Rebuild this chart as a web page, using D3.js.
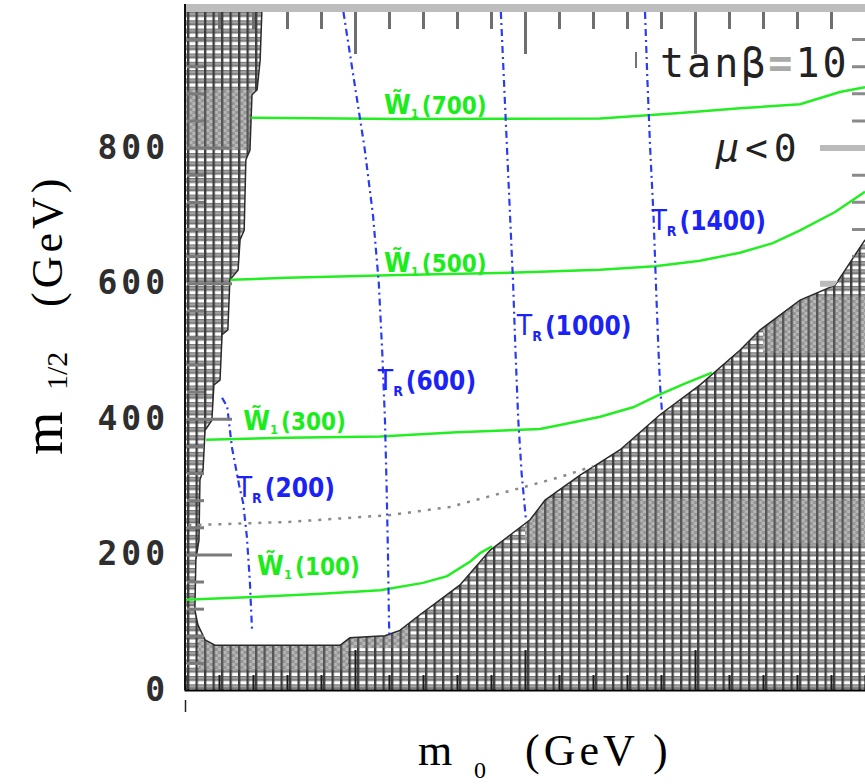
<!DOCTYPE html>
<html>
<head>
<meta charset="utf-8">
<script src="https://cdn.jsdelivr.net/npm/d3@7"></script>
<style>
  body { margin: 0; background: #fff; }
</style>
</head>
<body>
<div id="chart"></div>
<script>
// boundary of the allowed (white) region, [m0, m1/2] in GeV
const leftEdge = [[226,1000],[221,929],[212,885],[197,878],[191,796],[179,782],[174,678],[162,664],[156,619],[132,605],[126,531],[109,524],[103,457],[85,450],[79,398],[59,383],[53,324],[44,310],[41,221],[32,192],[29,118],[38,96],[59,74],[88,66]];
const bottomEdge = [[88,66],[456,66],[485,77],[588,80]];
const stauEdge = [[588,80],[632,88],[691,111],[750,133],[809,155],[897,206],[1015,251],[1059,280],[1162,317],[1279,354],[1397,406],[1515,450],[1632,501],[1691,531],[1809,575],[1912,597],[1941,619],[2000,664]];

// lighter shaded patches inside the excluded area
const shadeTopLeft = [[0,885],[300,885],[300,797],[0,797]];
const shadeBottom = [[40,74],[480,74],[480,30],[40,30]];
const shadeBottomMid = [[460,92],[660,92],[660,62],[460,62]];
const shadeRightBand = [[1000,282],[2000,282],[2000,216],[1000,216]];
const shadeRightTop = [[1700,580],[2000,580],[2000,497],[1700,497]];

// chargino mass contours
const charginoMasses = [100, 300, 500, 700];
const chargino100 = [[0,133],[200,137],[400,142],[574,147],[700,158],[771,168],[840,190],[868,202],[903,212]];
const chargino300 = [[62,369],[300,372],[574,374],[800,380],[1044,385],[1103,391],[1221,403],[1318,417],[1397,436],[1470,452],[1550,468]];
const chargino500 = [[134,605],[300,608],[632,612],[1000,616],[1221,620],[1382,625],[1515,633],[1632,645],[1729,659],[1809,678],[1912,705],[2000,735]];
const chargino700 = [[195,844],[632,842],[1221,843],[1456,851],[1632,858],[1809,864],[1926,882],[2000,889]];
const charginoLines = [chargino100, chargino300, chargino500, chargino700];

// selectron (R) mass contours
const selectronMasses = [200, 600, 1000, 1400];
const selectron200 = [[109,431],[124,418],[138,358],[160,300],[171,276],[182,226],[191,158],[197,90]];
const selectron600 = [[466,1000],[497,900],[528,800],[553,700],[570,600],[580,500],[588,400],[593,300],[597,200],[600,100],[601,82]];
const selectron1000 = [[929,1000],[938,900],[947,800],[956,700],[965,600],[972,500],[980,400],[990,320],[1003,250]];
const selectron1400 = [[1353,1000],[1360,900],[1368,800],[1378,700],[1385,600],[1391,520],[1397,450],[1403,410]];
const selectronLines = [selectron200, selectron600, selectron1000, selectron1400];

// dotted contour
const dottedLine = [[10,243],[309,248],[603,258],[779,270],[965,295],[1103,314],[1200,330]];

// label anchors (GeV)
const charginoLabelAt = [[212,170],[171,384],[585,617],[585,849]];
const selectronLabelAt = [[152,285],[567,443],[976,524],[1372,679]];

const yTickLabels = [0, 200, 400, 600, 800];

const width = 865, height = 784;
const x = d3.scaleLinear().domain([0, 2000]).range([185, 865]);
const y = d3.scaleLinear().domain([0, 1000]).range([690, 12]);

const svg = d3.select("#chart").append("svg")
  .attr("width", width).attr("height", height)
  .attr("viewBox", [0, 0, width, height]);

const defs = svg.append("defs");
const brick = defs.append("pattern").attr("id", "brick")
  .attr("patternUnits", "userSpaceOnUse").attr("width", 8.5).attr("height", 8.3);
brick.append("rect").attr("width", 8.5).attr("height", 8.3).attr("fill", "#767676");
brick.append("rect").attr("x", 0).attr("width", 2.4).attr("height", 8.3).attr("fill", "#3c3c3c");
brick.append("rect").attr("x", 2.4).attr("y", 0.4).attr("width", 6.1).attr("height", 3.3).attr("fill", "#fff");
brick.append("rect").attr("x", 2.4).attr("y", 4.8).attr("width", 6.1).attr("height", 2).attr("fill", "#a6a6a6");

const checker = defs.append("pattern").attr("id", "checker")
  .attr("patternUnits", "userSpaceOnUse").attr("width", 8.5).attr("height", 6);
checker.append("rect").attr("width", 8.5).attr("height", 6).attr("fill", "#b8b8b8");
checker.append("rect").attr("x", 2.4).attr("width", 3).attr("height", 3).attr("fill", "#969696");
checker.append("rect").attr("x", 5.4).attr("y", 3).attr("width", 3.1).attr("height", 3).attr("fill", "#969696");
checker.append("rect").attr("width", 2.4).attr("height", 6).attr("fill", "#555");

const clip = defs.append("clipPath").attr("id", "allowed-clip");

const line = d3.line().x(d => x(d[0])).y(d => y(d[1]));

// excluded area everywhere, then cut out the allowed region
svg.append("rect")
  .attr("x", x(0) + 1).attr("y", y(1000))
  .attr("width", x(2000) - x(0) - 1).attr("height", y(0) - y(1000))
  .attr("fill", "url(#brick)");

svg.append("g")
  .selectAll("path")
  .data([shadeTopLeft, shadeBottom, shadeBottomMid, shadeRightBand, shadeRightTop])
  .join("path")
    .attr("d", d => line(d) + "Z")
    .attr("fill", "url(#checker)");

const allowed = [[2000,1000], ...[...stauEdge].reverse(), ...[...bottomEdge].reverse().slice(1), ...[...leftEdge].reverse().slice(1)];
svg.append("path")
  .attr("d", line(allowed) + "Z")
  .attr("fill", "#fff");
clip.append("path").attr("d", line(allowed) + "Z");

svg.append("path")
  .attr("d", line([...leftEdge, ...bottomEdge.slice(1), ...stauEdge.slice(1)]))
  .attr("fill", "none")
  .attr("stroke", "#2a2a2a")
  .attr("stroke-width", 1.5);

// right ticks, only seen in the allowed area
svg.append("g")
    .attr("clip-path", "url(#allowed-clip)")
  .append("g")
    .attr("transform", `translate(${x(2000)},0)`)
    .call(d3.axisLeft(y).tickValues(d3.range(40, 1000, 40)).tickFormat("").tickSize(13))
    .call(g => g.select(".domain").remove())
    .call(g => g.selectAll(".tick line")
        .attr("stroke", d => d % 200 === 0 ? "#bbb" : "#8a8a8a")
        .attr("stroke-width", d => d % 200 === 0 ? 6 : 3)
        .attr("x2", d => d % 200 === 0 ? -45 : -13));

// dotted contour
svg.append("path")
  .attr("d", line(dottedLine))
  .attr("fill", "none")
  .attr("stroke", "#8a8a8a")
  .attr("stroke-width", 2.5)
  .attr("stroke-dasharray", "3,7");

// chargino contours
svg.append("g")
  .selectAll("path")
  .data(charginoLines)
  .join("path")
    .attr("d", line)
    .attr("fill", "none")
    .attr("stroke", "#22ee22")
    .attr("stroke-width", 2.5);

// selectron contours
svg.append("g")
  .selectAll("path")
  .data(selectronLines)
  .join("path")
    .attr("d", line)
    .attr("fill", "none")
    .attr("stroke", "#2a3cf0")
    .attr("stroke-width", 2.2)
    .attr("stroke-dasharray", "7,4,2,4");

// labels
const labelFont = "DejaVu Sans Condensed, DejaVu Sans";
const gl = svg.append("g")
    .attr("font-family", labelFont)
    .attr("font-weight", "bold")
    .attr("font-size", 24)
    .attr("fill", "#1cec1c")
  .selectAll("text")
  .data(charginoMasses)
  .join("text")
    .attr("x", (d, i) => x(charginoLabelAt[i][0]))
    .attr("y", (d, i) => y(charginoLabelAt[i][1]));
gl.append("tspan").attr("font-size", 27).text("W\u0303");
gl.append("tspan").attr("font-size", 13).attr("dy", 4).text("1");
gl.append("tspan").attr("dy", -4).attr("dx", 3).text(d => `(${d})`);

const bl = svg.append("g")
    .attr("font-family", labelFont)
    .attr("font-weight", "bold")
    .attr("font-size", 26)
    .attr("fill", "#1a22f5")
  .selectAll("text")
  .data(selectronMasses)
  .join("text")
    .attr("x", (d, i) => x(selectronLabelAt[i][0]))
    .attr("y", (d, i) => y(selectronLabelAt[i][1]));
bl.append("tspan").attr("font-size", 28).attr("font-weight", "normal").text("T");
bl.append("tspan").attr("font-size", 14).attr("dy", 6).text("R");
bl.append("tspan").attr("dy", -6).attr("dx", 3).text(d => `(${d})`);

// frame band on top
svg.append("rect")
  .attr("x", x(0) + 1).attr("y", 4)
  .attr("width", x(2000) - x(0)).attr("height", y(1000) - 4)
  .attr("fill", "#bdbdbd");

// top ticks
svg.append("g")
  .attr("transform", `translate(0,${y(1000)})`)
  .call(d3.axisBottom(x).tickValues(d3.range(100, 2000, 100)).tickFormat("").tickSize(17))
  .call(g => g.select(".domain").remove())
  .call(g => g.selectAll(".tick line")
      .attr("stroke", "#6e6e6e").attr("stroke-width", 3)
      .attr("y2", d => d % 500 === 0 ? 42 : 17));

// bottom ticks
svg.append("g")
  .attr("transform", `translate(0,${y(0)})`)
  .call(d3.axisTop(x).tickValues(d3.range(100, 2000, 100)).tickFormat("").tickSize(15))
  .call(g => g.select(".domain").attr("stroke", "#000").attr("stroke-width", 2))
  .call(g => g.selectAll(".tick line")
      .attr("stroke", "#1a1a1a").attr("stroke-width", 2)
      .attr("y2", d => d % 500 === 0 ? -40 : -15));

svg.append("g")
  .attr("transform", `translate(0,${y(0) + 10})`)
  .call(d3.axisBottom(x).tickValues([0]).tickFormat("").tickSize(12))
  .call(g => g.select(".domain").remove())
  .call(g => g.selectAll(".tick line").attr("stroke", "#222").attr("stroke-width", 1.5));

// left ticks
svg.append("g")
  .attr("transform", `translate(${x(0) + 2},0)`)
  .call(d3.axisRight(y).tickValues(d3.range(40, 1000, 40)).tickFormat("").tickSize(17))
  .call(g => g.select(".domain").remove())
  .call(g => g.selectAll(".tick line")
      .attr("stroke", "#7a7a7a").attr("stroke-width", 3)
      .attr("x2", d => d % 200 === 0 ? 45 : 17));

// left axis line and labels
svg.append("line")
  .attr("x1", x(0)).attr("x2", x(0))
  .attr("y1", y(1000) - 8).attr("y2", y(0))
  .attr("stroke", "#111").attr("stroke-width", 2);

svg.append("g")
  .attr("transform", `translate(${x(0)},0)`)
  .call(d3.axisLeft(y).tickValues(yTickLabels).tickSize(0).tickPadding(16))
  .call(g => g.select(".domain").remove())
  .call(g => g.selectAll(".tick text")
      .attr("font-family", "DejaVu Sans Mono")
      .attr("font-weight", "bold")
      .attr("font-size", 33)
      .attr("letter-spacing", 4)
      .attr("fill", "#2e2e2e"));

// axis titles
const serif = "Liberation Serif";
svg.append("text").attr("font-family", serif).attr("font-size", 44)
  .attr("x", 418).attr("y", 765).text("m");
svg.append("text").attr("font-family", serif).attr("font-size", 24)
  .attr("x", 474).attr("y", 778).text("0");
svg.append("text").attr("font-family", serif).attr("font-size", 44)
  .attr("letter-spacing", 4)
  .attr("x", 525).attr("y", 765).text("(GeV )");

svg.append("text").attr("font-family", serif).attr("font-size", 56)
  .attr("transform", "translate(62,455) rotate(-90)").text("m");
svg.append("text").attr("font-family", serif).attr("font-size", 30)
  .attr("transform", "translate(67,390) rotate(-90)").text("1/2");
svg.append("text").attr("font-family", serif).attr("font-size", 44)
  .attr("letter-spacing", 4)
  .attr("transform", "translate(62,307) rotate(-90)").text("(GeV)");

// legend text
svg.append("line")
  .attr("x1", 636).attr("x2", 636).attr("y1", 52).attr("y2", 68)
  .attr("stroke", "#444").attr("stroke-width", 1.5);
const tb = svg.append("text")
  .attr("font-family", "DejaVu Sans Mono")
  .attr("font-size", 40)
  .attr("letter-spacing", 3)
  .attr("fill", "#222")
  .attr("x", 660).attr("y", 77);
tb.append("tspan").text("tan\u03b2");
tb.append("tspan").attr("fill", "#aaa").attr("font-weight", "bold").text("=");
tb.append("tspan").text("10");

const mu = svg.append("text")
  .attr("font-family", "DejaVu Sans Mono")
  .attr("font-size", 38)
  .attr("fill", "#222")
  .attr("letter-spacing", 6)
  .attr("x", 716).attr("y", 161);
mu.append("tspan").attr("font-style", "italic").text("\u03bc");
mu.append("tspan").text("<0");
</script>
</body>
</html>
